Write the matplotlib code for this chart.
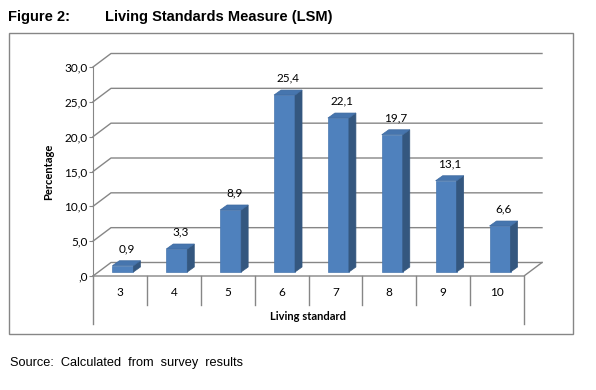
import matplotlib
matplotlib.use("Agg")
import matplotlib.pyplot as plt
from matplotlib.patches import Polygon, Rectangle

# Data
categories = ["3", "4", "5", "6", "7", "8", "9", "10"]
values = [0.9, 3.3, 8.9, 25.4, 22.1, 19.7, 13.1, 6.6]
y_ticks = [0, 5, 10, 15, 20, 25, 30]
y_tick_labels = [",0", "5,0", "10,0", "15,0", "20,0", "25,0", "30,0"]

W, H = 596, 390
FONT = ["Lato", "DejaVu Sans"]
TITLE_FONT = ["Liberation Sans", "DejaVu Sans"]


def main():
    fig = plt.figure(figsize=(W / 100, H / 100), dpi=100)

    # outer chart border
    fig.patches.append(Rectangle((9 / W, 1 - 334 / H), (573 - 9) / W, (334 - 33) / H,
                                 transform=fig.transFigure, fill=False,
                                 edgecolor="#868686", linewidth=1))

    # front plane: x 0..8 -> px 93..524, y 0..30 -> px 276..67
    x0, x1, yb, yt = 93, 524, 276, 67
    ax = fig.add_axes([x0 / W, 1 - yb / H, (x1 - x0) / W, (yb - yt) / H])
    n = len(categories)
    ax.set_xlim(0, n)
    ax.set_ylim(0, 30)
    sx = (x1 - x0) / n
    sy = (yb - yt) / 30

    # depth offsets (pixel -> data units)
    wx, wy = 18 / sx, 13.5 / sy
    gc = "#868686"

    # back wall gridlines with oblique side
    for v in y_ticks:
        ax.plot([0, wx, n + wx], [v, v + wy, v + wy], color=gc, lw=1,
                clip_on=False, zorder=1)
    # floor front edge and right side
    ax.plot([0, n, n + wx], [0, 0, wy], color=gc, lw=1, clip_on=False, zorder=1)

    # bars as pseudo 3d boxes
    bx, bw = 0.36, 0.39
    base = 4 / sy
    dx, dy = 7 / sx, 5 / sy
    for i, v in enumerate(values):
        l = i + bx
        r = l + bw
        top = base + v
        ax.add_patch(Polygon([(l, base), (r, base), (r, top), (l, top)],
                             closed=True, facecolor="#4F81BD", edgecolor="#4A78B0",
                             lw=0.5, zorder=3, clip_on=False))
        ax.add_patch(Polygon([(r, base), (r + dx, base + dy), (r + dx, top + dy), (r, top)],
                             closed=True, facecolor="#34577F", edgecolor="#34577F",
                             lw=0.5, zorder=3, clip_on=False))
        ax.add_patch(Polygon([(l, top), (r, top), (r + dx, top + dy), (l + dx, top + dy)],
                             closed=True, facecolor="#4675AE", edgecolor="#3E6AA0",
                             lw=0.5, zorder=3, clip_on=False))
        ax.text(l + bw / 2 + dx / 2, top + dy + 0.9, f"{v:.1f}".replace(".", ","),
                ha="center", va="bottom", fontsize=8.5, family=FONT, zorder=4)

    # y axis
    for s in ["top", "right", "bottom"]:
        ax.spines[s].set_visible(False)
    ax.spines["left"].set_color(gc)
    ax.set_yticks(y_ticks)
    ax.set_yticklabels(y_tick_labels, fontsize=8.5, family=FONT)
    ax.tick_params(axis="y", length=3, color=gc, pad=1)
    ax.set_xticks([])
    ax.set_ylabel("Percentage", fontsize=8, fontweight="bold", family=FONT, labelpad=7)

    # category table below the floor
    row = 29 / sy
    bottom = 48 / sy
    for k in range(n + 1):
        low = bottom if k in (0, n) else row
        ax.plot([k, k], [0, -low], color=gc, lw=1, clip_on=False)
    for i, c in enumerate(categories):
        ax.text(i + 0.5, -17 / sy, c, ha="center", va="center", fontsize=8.5,
                family=FONT)
    ax.text(n / 2, -40 / sy, "Living standard", ha="center", va="center",
            fontsize=8, fontweight="bold", family=FONT)

    # titles and source
    fig.text(8 / W, 1 - 17 / H, "Figure 2:", ha="left", va="center", fontsize=10.5,
             fontweight="bold", family=TITLE_FONT)
    fig.text(105 / W, 1 - 17 / H, "Living Standards Measure (LSM)", ha="left",
             va="center", fontsize=10.5, fontweight="bold", family=TITLE_FONT)
    fig.text(10 / W, 1 - 363 / H, "Source:  Calculated  from  survey  results",
             ha="left", va="center", fontsize=9.2, family=["Liberation Sans", "DejaVu Sans"])

    fig.savefig("out.png", dpi=100)


if __name__ == "__main__":
    main()
